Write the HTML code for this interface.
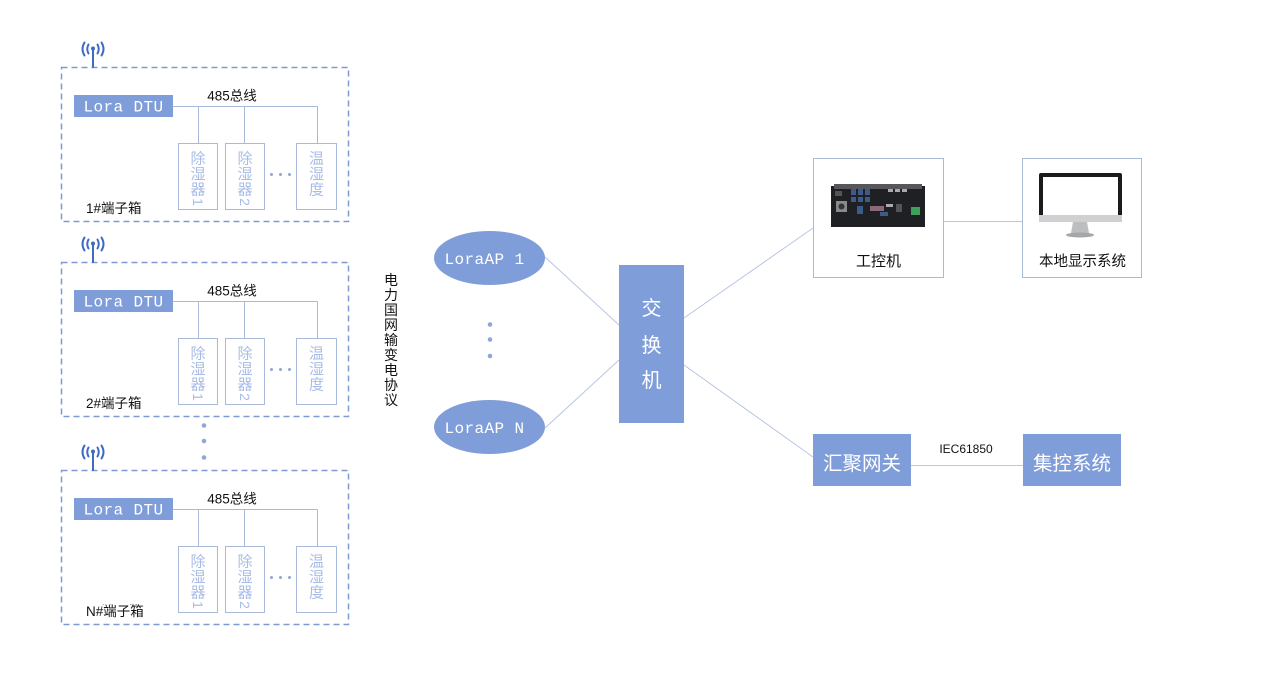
<!DOCTYPE html>
<html><head><meta charset="utf-8"><style>
html,body{margin:0;padding:0;background:#fff;}
svg{display:block;}
text{font-family:"Liberation Sans","Noto Sans CJK SC",sans-serif;}
.mono{font-family:"Liberation Mono","DejaVu Sans Mono",monospace;}
</style></head><body>
<svg width="1268" height="677" viewBox="0 0 1268 677" xmlns="http://www.w3.org/2000/svg">
<defs>
<g id="tb">
  <rect x="61.5" y="67.5" width="287" height="154" fill="none" stroke="#7f9ad0" stroke-width="1.5" stroke-dasharray="6 4"/>
  <!-- antenna -->
  <g stroke="#3f6cc2" stroke-width="2" fill="none" stroke-linecap="round">
    <line x1="93" y1="50" x2="93" y2="67"/>
    <path d="M88.5 44.5 Q86 49 88.5 53.5"/>
    <path d="M97.5 44.5 Q100 49 97.5 53.5"/>
    <path d="M84.5 42.5 Q80.5 49 84.5 55.5"/>
    <path d="M101.5 42.5 Q105.5 49 101.5 55.5"/>
  </g>
  <circle cx="93" cy="48.5" r="2" fill="#3f6cc2"/>
  <!-- DTU -->
  <rect x="74" y="95" width="99" height="22" fill="#7f9dd8"/>
  <text x="123.5" y="111.5" class="mono" font-size="16" fill="#fff" text-anchor="middle" letter-spacing="0.4">Lora DTU</text>
  <!-- bus -->
  <g stroke="#a9b9d9" stroke-width="1" fill="none">
    <path d="M173 106.5 H317.5 M198.5 106.5 V143 M244.5 106.5 V143 M317.5 106.5 V143"/>
    <rect x="178.5" y="143.5" width="39" height="66" fill="#fff"/>
    <rect x="225.5" y="143.5" width="39" height="66" fill="#fff"/>
    <rect x="296.5" y="143.5" width="40" height="66" fill="#fff"/>
  </g>
  <text x="232" y="100.5" font-size="13.5" fill="#111" text-anchor="middle">485总线</text>
  <text x="86" y="213" font-size="13.5" fill="#111">1#端子箱</text>
  <g font-size="15" fill="#a8bce6" text-anchor="middle">
    <text x="198" y="163.5">除</text>
    <text x="198" y="179">湿</text>
    <text x="198" y="194.5">器</text>
    <text transform="translate(193,202) rotate(90)" font-size="14" text-anchor="middle" y="0">1</text>
    <text x="245" y="163.5">除</text>
    <text x="245" y="179">湿</text>
    <text x="245" y="194.5">器</text>
    <text transform="translate(240,202) rotate(90)" font-size="14" text-anchor="middle" y="0">2</text>
    <text x="316.5" y="163.5">温</text>
    <text x="316.5" y="179">湿</text>
    <text x="316.5" y="194.5">度</text>
  </g>
  <g fill="#8fa6d8">
    <circle cx="271.5" cy="174.5" r="1.5"/>
    <circle cx="280.5" cy="174.5" r="1.5"/>
    <circle cx="289.5" cy="174.5" r="1.5"/>
  </g>
</g>
</defs>

<use href="#tb"/>
<g transform="translate(0,195)">
  <use href="#tb"/>
</g>
<g transform="translate(0,403)">
  <use href="#tb"/>
</g>
<!-- fix labels for box 2 and N: cover and rewrite -->
<rect x="84" y="397" width="70" height="16" fill="#fff"/>
<text x="86" y="408" font-size="13.5" fill="#111">2#端子箱</text>
<rect x="84" y="605" width="70" height="16" fill="#fff"/>
<text x="86" y="616" font-size="13.5" fill="#111">N#端子箱</text>

<!-- dots between boxes -->
<g fill="#8fa6d8">
  <circle cx="204" cy="425.5" r="2.3"/>
  <circle cx="204" cy="441" r="2.3"/>
  <circle cx="204" cy="457.5" r="2.3"/>
</g>

<!-- vertical protocol text -->
<g font-size="14" fill="#111" text-anchor="middle">
  <text x="391" y="285">电</text>
  <text x="391" y="300">力</text>
  <text x="391" y="315">国</text>
  <text x="391" y="330">网</text>
  <text x="391" y="345">输</text>
  <text x="391" y="360">变</text>
  <text x="391" y="375">电</text>
  <text x="391" y="390">协</text>
  <text x="391" y="405">议</text>
</g>

<!-- connectors -->
<g stroke="#b8c6e3" stroke-width="1" fill="none">
  <line x1="545" y1="257" x2="619" y2="325"/>
  <line x1="545" y1="428" x2="619" y2="360"/>
  <line x1="684" y1="318" x2="813" y2="228"/>
  <line x1="684" y1="365" x2="813" y2="457"/>
  <line x1="944" y1="221.5" x2="1022" y2="221.5"/>
  <line x1="911" y1="465.5" x2="1023" y2="465.5"/>
</g>

<!-- ellipses -->
<ellipse cx="489.5" cy="258" rx="55.5" ry="27" fill="#7f9dd8"/>
<text x="484.5" y="264" class="mono" font-size="16" fill="#fff" text-anchor="middle" letter-spacing="0.4">LoraAP 1</text>
<ellipse cx="489.5" cy="427" rx="55.5" ry="27" fill="#7f9dd8"/>
<text x="484.5" y="433" class="mono" font-size="16" fill="#fff" text-anchor="middle" letter-spacing="0.4">LoraAP N</text>
<g fill="#8fa6d8">
  <circle cx="490" cy="324.5" r="2.3"/>
  <circle cx="490" cy="339.5" r="2.3"/>
  <circle cx="490" cy="356" r="2.3"/>
</g>

<!-- switch -->
<rect x="619" y="265" width="65" height="158" fill="#7f9dd8"/>
<g font-size="20" fill="#fff" text-anchor="middle">
  <text x="651.5" y="315">交</text>
  <text x="651.5" y="352">换</text>
  <text x="651.5" y="387">机</text>
</g>

<!-- 工控机 box -->
<rect x="813.5" y="158.5" width="130" height="119" fill="#fff" stroke="#a9b9d9" stroke-width="1"/>
<!-- industrial pc -->
<rect x="831" y="186" width="94" height="41" fill="#1f2024"/>
<rect x="834" y="184" width="88" height="5" fill="#55575c"/>
<rect x="835" y="191" width="7" height="5" fill="#555"/>
<rect x="836" y="201" width="11" height="11" fill="#8a8a8a"/>
<circle cx="841.5" cy="206.5" r="3" fill="#333"/>
<g fill="#3c5a8a">
  <rect x="851" y="189" width="5" height="6"/><rect x="858" y="189" width="5" height="6"/><rect x="865" y="189" width="5" height="6"/>
  <rect x="851" y="197" width="5" height="5"/><rect x="858" y="197" width="5" height="5"/><rect x="865" y="197" width="5" height="5"/>
  <rect x="857" y="206" width="6" height="8"/>
  <rect x="880" y="212" width="8" height="4"/>
</g>
<g fill="#aaa">
  <rect x="888" y="189" width="5" height="3"/><rect x="895" y="189" width="5" height="3"/><rect x="902" y="189" width="5" height="3"/>
  <rect x="886" y="204" width="7" height="3"/>
</g>
<rect x="870" y="206" width="14" height="5" fill="#8a6a7a"/>
<rect x="896" y="204" width="6" height="8" fill="#555"/>
<rect x="911" y="207" width="9" height="8" fill="#3da15a"/>
<text x="878.5" y="266" font-size="15" fill="#111" text-anchor="middle">工控机</text>

<!-- 本地显示系统 box -->
<rect x="1022.5" y="158.5" width="119" height="119" fill="#fff" stroke="#a9b9d9" stroke-width="1"/>
<rect x="1039" y="173" width="83" height="49" rx="2" fill="#1b1b1d"/>
<rect x="1043" y="177" width="75" height="38" fill="#fff"/>
<rect x="1039" y="215" width="83" height="7" fill="#cfd0d2"/>
<path d="M1073 222 L1087 222 L1089 233 L1071 233 Z" fill="#bdbec0"/>
<ellipse cx="1080" cy="235" rx="14" ry="2.5" fill="#a5a6a8"/>
<text x="1082.5" y="266" font-size="14.5" fill="#111" text-anchor="middle">本地显示系统</text>

<!-- 汇聚网关 / 集控系统 -->
<rect x="813" y="434" width="98" height="52" fill="#7f9dd8"/>
<text x="862" y="470" font-size="19.5" fill="#fff" text-anchor="middle">汇聚网关</text>
<rect x="1023" y="434" width="98" height="52" fill="#7f9dd8"/>
<text x="1072" y="470" font-size="19.5" fill="#fff" text-anchor="middle">集控系统</text>
<text x="966" y="453" font-size="12" fill="#111" text-anchor="middle">IEC61850</text>
</svg>
</body></html>
